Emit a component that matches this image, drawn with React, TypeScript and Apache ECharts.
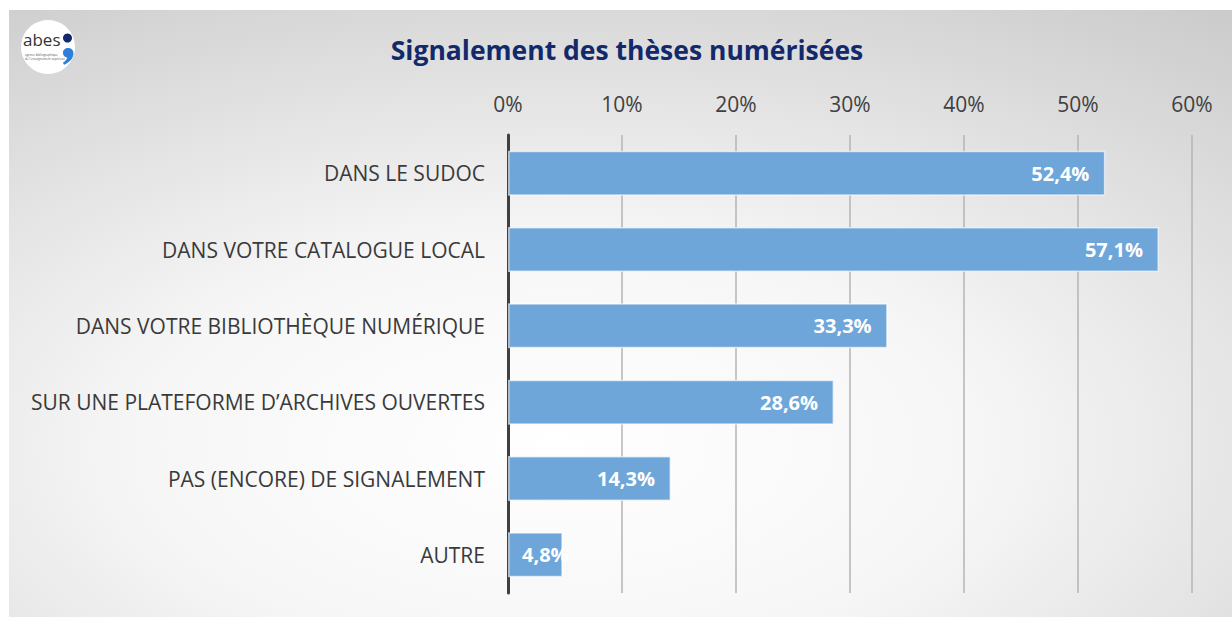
import React, { useEffect, useRef } from "react";
import * as echarts from "echarts";

const categories = [
  "DANS LE SUDOC",
  "DANS VOTRE CATALOGUE LOCAL",
  "DANS VOTRE BIBLIOTHÈQUE NUMÉRIQUE",
  "SUR UNE PLATEFORME D’ARCHIVES OUVERTES",
  "PAS (ENCORE) DE SIGNALEMENT",
  "AUTRE",
];
const values = [52.4, 57.1, 33.3, 28.6, 14.3, 4.8];
const titleText = "Signalement des thèses numérisées";

const commaPath =
  "M4,0 C7,0 9,2 9,5 C9,10 5,14 0,16 L-1,14 C2,12 3,10 3,9 C1,9 -1,7 -1,4.5 C-1,2 1,0 4,0 Z";

export default function App() {
  const ref = useRef<HTMLDivElement>(null);
  useEffect(() => {
    if (!ref.current) return;
    try {
      echarts.graphic.registerShape("abesComma", echarts.graphic.extendPath(commaPath, {}));
    } catch (e) {}
    const chart = echarts.init(ref.current, null, { renderer: "svg" });
    const font = "Open Sans";
    chart.setOption({
      animation: false,
      title: {
        text: titleText,
        left: 622,
        textAlign: "center",
        top: 31,
        textStyle: { fontFamily: font, fontSize: 26.5, fontWeight: "bold", color: "#12296b" },
      },
      graphic: [
        {
          type: "rect",
          z: -10,
          silent: true,
          shape: { x: 9, y: 10, width: 1223, height: 607 },
          style: {
            fill: new echarts.graphic.RadialGradient(0.45, 0.72, 1.15, [
              { offset: 0, color: "#ffffff" },
              { offset: 0.3, color: "#f6f6f6" },
              { offset: 1, color: "#b8b8b8" },
            ]),
          },
        },
        {
          type: "group",
          z: 10,
          children: [
            { type: "circle", shape: { cx: 48, cy: 47, r: 27 }, style: { fill: "#ffffff" } },
            {
              type: "text",
              x: 23,
              y: 31,
              style: { text: "abes", fontFamily: font, fontSize: 17, fill: "#333333" },
            },
            {
              type: "text",
              x: 25,
              y: 53,
              style: { text: "agence bibliographique", fontFamily: font, fontSize: 3, fill: "#555555" },
            },
            {
              type: "text",
              x: 25,
              y: 57,
              style: { text: "de l'enseignement supérieur", fontFamily: font, fontSize: 3, fill: "#555555" },
            },
            { type: "circle", shape: { cx: 67.5, cy: 38, r: 4.5 }, style: { fill: "#14286e" } },
            {
              type: "abesComma",
              x: 64,
              y: 48,
              scaleX: 1.05,
              scaleY: 1.05,
              style: { fill: "#2e7fd9" },
            },
          ],
        },
      ],
      grid: { left: 508, right: 40, top: 135, bottom: 24 },
      xAxis: {
        type: "value",
        position: "top",
        min: 0,
        max: 60,
        interval: 10,
        axisLine: { show: false },
        axisTick: { show: false },
        axisLabel: {
          formatter: "{value}%",
          fontFamily: font,
          fontSize: 21,
          color: "#404040",
          margin: 21,
        },
        splitLine: { show: true, lineStyle: { color: "#b4b4b4", width: 1.5 } },
      },
      yAxis: {
        type: "category",
        inverse: true,
        data: categories,
        axisLine: { show: true, lineStyle: { color: "#404040", width: 3 } },
        axisTick: { show: false },
        axisLabel: {
          fontFamily: font,
          fontSize: 21,
          color: "#3a3a3a",
          margin: 23,
        },
      },
      series: [
        {
          type: "bar",
          data: values.map((v, i) =>
            i === values.length - 1
              ? { value: v, label: { position: "insideLeft", distance: 14 } }
              : v
          ),
          barWidth: 45,
          itemStyle: {
            color: "#6fa6da",
            borderColor: "rgba(255,255,255,0.6)",
            borderWidth: 1.5,
          },
          label: {
            show: true,
            position: "insideRight",
            distance: 16,
            fontFamily: font,
            fontSize: 20,
            fontWeight: "bold",
            color: "#ffffff",
            formatter: (p: any) => String(p.value.toFixed(1)).replace(".", ",") + "%",
          },
        },
      ],
    });
    return () => chart.dispose();
  }, []);
  return (
    <div
      ref={ref}
      style={{ position: "fixed", left: 0, top: 0, width: 1232, height: 617, background: "#ffffff" }}
    />
  );
}
